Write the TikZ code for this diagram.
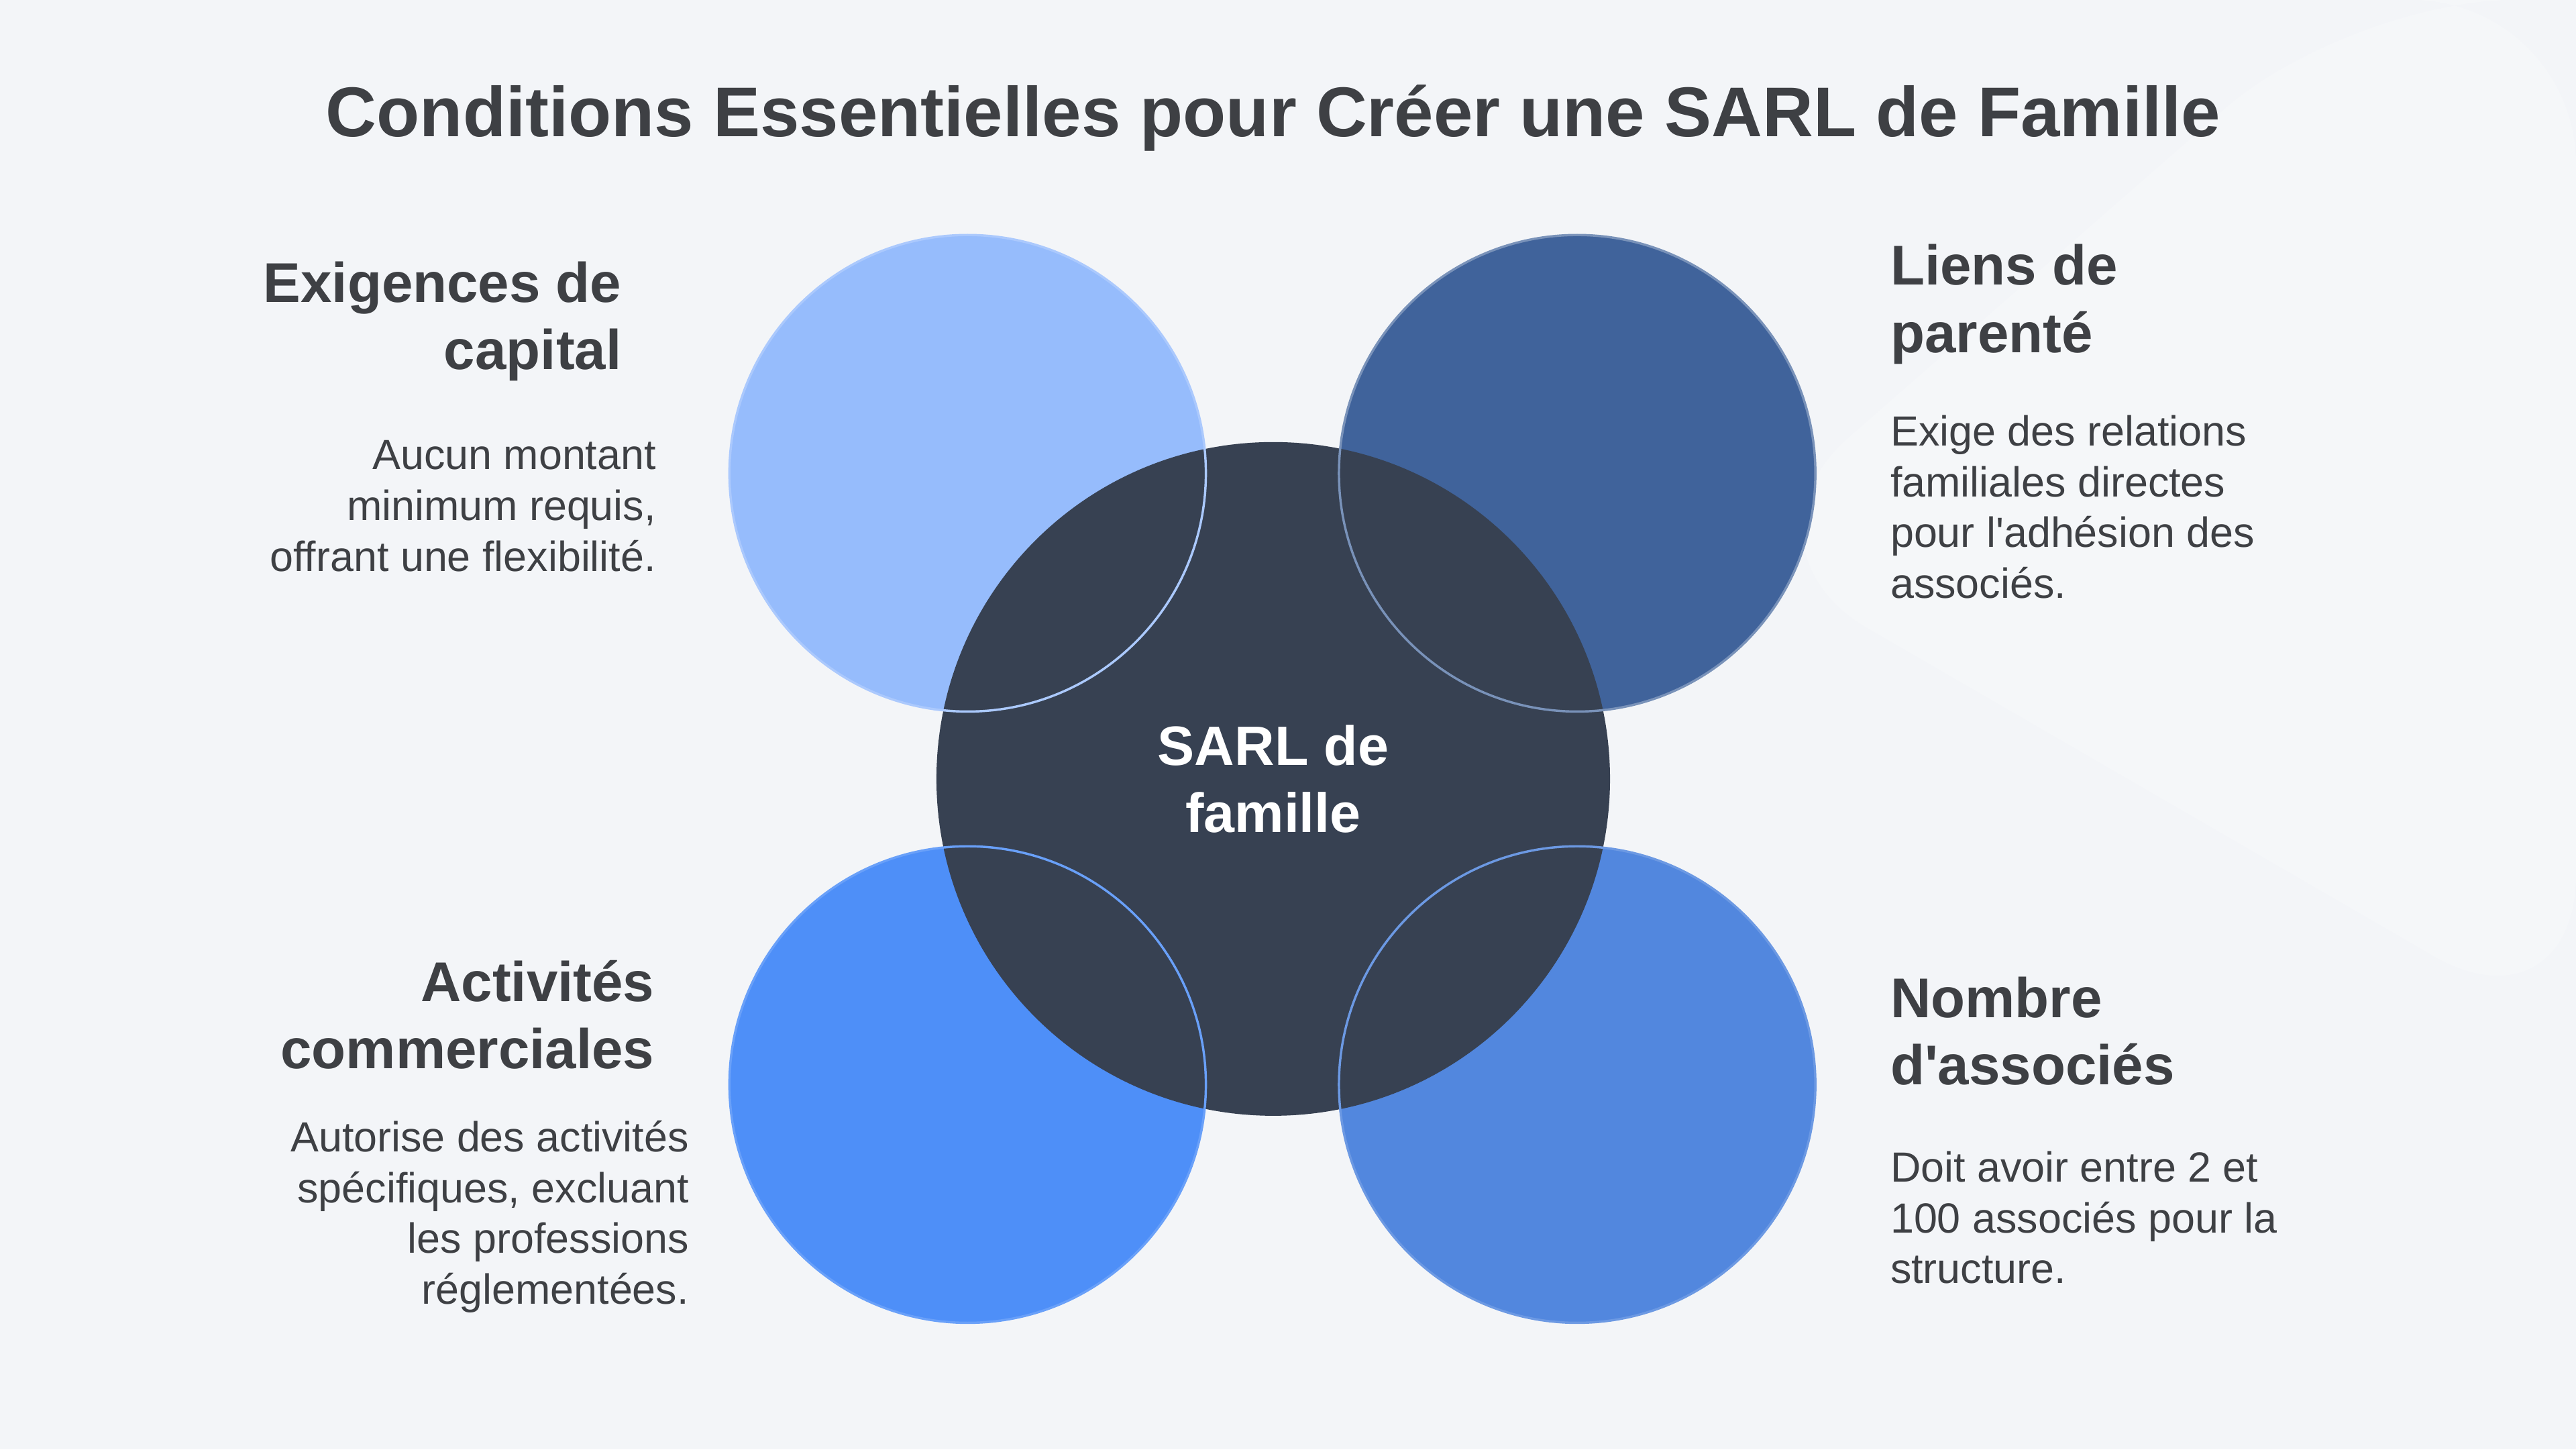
\documentclass[tikz,border=0pt]{standalone}
\usepackage{fontspec}
\setmainfont{Liberation Sans}
\definecolor{bg}{RGB}{243,245,248}
\definecolor{txt}{RGB}{62,64,68}
\definecolor{c-light}{RGB}{150,188,252}
\definecolor{c-navy}{RGB}{64,99,155}
\definecolor{c-blue}{RGB}{78,143,248}
\definecolor{c-mid}{RGB}{82,135,222}
\definecolor{c-dark}{RGB}{55,65,82}
\begin{document}
\begin{tikzpicture}[
        outer/.style={circle, minimum size=2.9cm, inner sep=0pt},
        ring/.style={circle, minimum size=2.9cm, inner sep=0pt, draw=#1, line width=0.4pt},
        heading/.style={text=txt, font={\bfseries\fontsize{9.7}{11.7}\selectfont}, inner sep=0pt},
        body/.style={text=txt, font={\fontsize{7.3}{8.8}\selectfont}, inner sep=0pt},
    ]
    \fill[bg] (0,0) rectangle (15.68,8.82);
    \fill[white, opacity=0.2, rounded corners=1cm] (10.5,5.5) -- (14.3,8.82) -- (15.68,8.82) -- (15.68,2.5) -- cycle;
    % title
    \node[text=txt, font={\bfseries\fontsize{12.2}{14}\selectfont}] (title) at (7.75,8.10) {Conditions Essentielles pour Créer une SARL de Famille};
    % circles
    \node[outer, fill=c-light] (cap) at (5.89,5.94) {};
    \node[outer, fill=c-navy] (par) at (9.60,5.94) {};
    \node[outer, fill=c-blue] (act) at (5.89,2.22) {};
    \node[outer, fill=c-mid] (nbr) at (9.60,2.22) {};
    \node[circle, minimum size=4.1cm, inner sep=0pt, fill=c-dark, text=white,
          font={\bfseries\fontsize{9.6}{11.7}\selectfont}, align=center] (sarl) at (7.75,4.08) {SARL de\\famille};
    \node[ring=c-light!80!white] at (cap) {};
    \node[ring=c-navy!70!white] at (par) {};
    \node[ring=c-blue!85!white] at (act) {};
    \node[ring=c-mid!85!white] at (nbr) {};
    % texts
    \node[heading, align=right, anchor=east] (capH) at (3.79,6.865) {Exigences de\\capital};
    \node[body, align=right, anchor=east] (capB) at (4.00,5.74) {Aucun montant\\minimum requis,\\offrant une flexibilité.};
    \node[heading, align=left, anchor=west] (parH) at (11.50,6.97) {Liens de\\parenté};
    \node[body, align=left, anchor=west] (parB) at (11.50,5.735) {Exige des relations\\familiales directes\\pour l\textquotesingle adhésion des\\associés.};
    \node[heading, align=right, anchor=east] (actH) at (3.99,2.645) {Activités\\commerciales};
    \node[body, align=right, anchor=east] (actB) at (4.20,1.415) {Autorise des activités\\spécifiques, excluant\\les professions\\réglementées.};
    \node[heading, align=left, anchor=west] (nbrH) at (11.50,2.545) {Nombre\\d\textquotesingle associés};
    \node[body, align=left, anchor=west] (nbrB) at (11.50,1.41) {Doit avoir entre 2 et\\100 associés pour la\\structure.};
\end{tikzpicture}
\end{document}
